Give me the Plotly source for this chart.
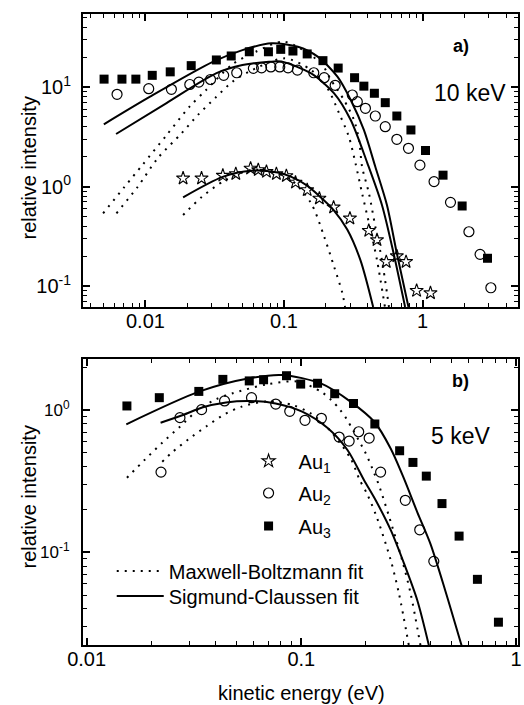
import plotly.graph_objects as go

# ---------------- data : panel a) 10 keV ----------------
au1_a_x = [0.0187, 0.0254, 0.0362, 0.0449, 0.0574, 0.0652, 0.0747, 0.0881, 0.104, 0.121, 0.147, 0.180, 0.228, 0.299, 0.409, 0.469, 0.547, 0.652, 0.760, 0.906, 1.14]
au1_a_y = [1.21, 1.21, 1.29, 1.34, 1.52, 1.47, 1.41, 1.34, 1.28, 1.10, 0.923, 0.760, 0.618, 0.479, 0.360, 0.290, 0.175, 0.200, 0.175, 0.0897, 0.085]

au2_a_x = [0.00624, 0.01056, 0.0154, 0.0209, 0.0243, 0.0295, 0.0367, 0.0456, 0.0601, 0.0689, 0.0804, 0.0932, 0.107, 0.125, 0.164, 0.195, 0.234, 0.311, 0.338, 0.387, 0.456, 0.538, 0.652, 0.791, 0.957, 1.21, 1.59, 2.16, 2.60, 3.11]
au2_a_y = [8.45, 9.61, 9.48, 10.6, 11.2, 11.9, 13.1, 13.9, 15.4, 15.6, 15.9, 15.9, 15.6, 14.8, 13.9, 12.4, 10.4, 8.31, 7.12, 6.11, 5.11, 3.99, 2.98, 2.42, 1.64, 1.12, 0.693, 0.351, 0.208, 0.096]

au3_a_x = [0.00503, 0.00677, 0.00853, 0.0112, 0.0151, 0.0214, 0.0325, 0.0416, 0.0562, 0.0772, 0.0947, 0.116, 0.147, 0.191, 0.246, 0.323, 0.377, 0.449, 0.538, 0.652, 0.824, 1.05, 1.405, 1.93, 2.94]
au3_a_y = [12.0, 12.0, 12.0, 13.1, 14.2, 16.4, 18.7, 20.5, 22.6, 22.6, 23.9, 23.0, 21.5, 18.4, 15.5, 12.4, 10.2, 8.65, 6.96, 5.11, 3.70, 2.30, 1.30, 0.637, 0.190]

# Sigmund-Claussen fits (solid)
sc1_a_x = [0.0187, 0.0361, 0.0583, 0.090, 0.113, 0.147, 0.180, 0.228, 0.286, 0.356, 0.440]
sc1_a_y = [0.778, 1.25, 1.44, 1.38, 1.25, 1.02, 0.80, 0.58, 0.37, 0.182, 0.0616]
sc2_a_x = [0.00614, 0.0142, 0.0323, 0.0501, 0.0778, 0.0957, 0.157, 0.230, 0.303, 0.400, 0.509, 0.618, 0.748]
sc2_a_y = [3.37, 6.9, 13.7, 16.6, 17.9, 18.0, 13.7, 8.64, 4.66, 1.71, 0.652, 0.213, 0.0616]
sc3_a_x = [0.00501, 0.0108, 0.0306, 0.0501, 0.0812, 0.126, 0.175, 0.243, 0.303, 0.377, 0.456, 0.553, 0.652, 0.791]
sc3_a_y = [4.22, 8.0, 17.9, 23.5, 27.5, 25.4, 20.2, 12.7, 7.40, 3.70, 1.58, 0.652, 0.213, 0.0616]

# Maxwell-Boltzmann fits (dotted)
mb1_a_x = [0.0187, 0.0256, 0.0377, 0.0583, 0.0812, 0.113, 0.157, 0.195, 0.230, 0.264, 0.276]
mb1_a_y = [0.517, 0.789, 1.16, 1.47, 1.41, 1.16, 0.678, 0.313, 0.156, 0.0845, 0.0616]
mb2_a_x = [0.00618, 0.00881, 0.01225, 0.0182, 0.0239, 0.0320, 0.0425, 0.0560, 0.101, 0.157, 0.206, 0.250, 0.294, 0.328, 0.366, 0.416, 0.469, 0.535]
mb2_a_y = [0.538, 0.995, 1.92, 3.42, 5.23, 7.80, 11.3, 14.3, 19.4, 14.8, 9.70, 5.44, 3.16, 1.71, 0.855, 0.394, 0.182, 0.0616]
mb3_a_x = [0.00495, 0.00708, 0.00956, 0.0142, 0.0208, 0.0274, 0.0425, 0.0624, 0.101, 0.185, 0.218, 0.271, 0.320, 0.348, 0.366, 0.410, 0.456, 0.509, 0.572]
mb3_a_y = [0.538, 0.995, 1.66, 3.28, 6.34, 9.33, 16.9, 22.6, 28.5, 17.3, 11.8, 7.40, 4.66, 2.93, 1.58, 0.855, 0.394, 0.182, 0.0616]

# ---------------- data : panel b) 5 keV ----------------
au2_b_x = [0.0222, 0.0272, 0.0343, 0.0439, 0.0586, 0.0760, 0.0883, 0.104, 0.124, 0.150, 0.167, 0.185, 0.207, 0.234, 0.305, 0.356, 0.414]
au2_b_y = [0.366, 0.883, 1.005, 1.157, 1.22, 1.10, 0.979, 0.846, 0.874, 0.645, 0.605, 0.703, 0.635, 0.366, 0.232, 0.144, 0.0864]

au3_b_x = [0.0154, 0.0218, 0.0333, 0.0431, 0.0572, 0.0667, 0.0853, 0.0993, 0.119, 0.143, 0.175, 0.220, 0.287, 0.331, 0.382, 0.452, 0.543, 0.661, 0.828]
au3_b_y = [1.067, 1.22, 1.35, 1.64, 1.60, 1.63, 1.74, 1.52, 1.54, 1.30, 1.11, 0.797, 0.517, 0.428, 0.343, 0.220, 0.130, 0.0646, 0.0323]

sc2_b_x = [0.0221, 0.0281, 0.0348, 0.0446, 0.0572, 0.0759, 0.1009, 0.133, 0.164, 0.196, 0.222, 0.261, 0.301, 0.347, 0.393]
sc2_b_y = [0.814, 0.922, 1.045, 1.13, 1.157, 1.11, 0.973, 0.743, 0.523, 0.321, 0.232, 0.143, 0.0832, 0.0459, 0.0221]
sc3_b_x = [0.0153, 0.0336, 0.0572, 0.0814, 0.124, 0.170, 0.219, 0.261, 0.301, 0.347, 0.399, 0.468, 0.558]
sc3_b_y = [0.793, 1.35, 1.67, 1.76, 1.53, 1.14, 0.823, 0.534, 0.328, 0.191, 0.115, 0.054, 0.0221]

mb2_b_x = [0.0225, 0.0247, 0.0299, 0.0363, 0.0439, 0.0527, 0.0700, 0.0916, 0.111, 0.136, 0.170, 0.186, 0.204, 0.226, 0.261, 0.285, 0.317]
mb2_b_y = [0.433, 0.496, 0.625, 0.771, 0.933, 1.055, 1.15, 1.08, 0.942, 0.719, 0.454, 0.328, 0.251, 0.172, 0.0878, 0.0512, 0.0221]
mb3_b_x = [0.0154, 0.0186, 0.0225, 0.0272, 0.0330, 0.0401, 0.0479, 0.0700, 0.0966, 0.124, 0.138, 0.151, 0.162, 0.200, 0.219, 0.230, 0.257, 0.295, 0.323, 0.359]
mb3_b_y = [0.334, 0.445, 0.589, 0.763, 1.0, 1.19, 1.31, 1.52, 1.58, 1.34, 1.17, 1.01, 0.869, 0.492, 0.356, 0.295, 0.176, 0.0878, 0.0512, 0.0221]

# ---------------- ticks / labels ----------------
x_tickvals = [0.01, 0.1, 1]
x_ticktext = ["0.01", "0.1", "1"]
y_tickvals = [0.1, 1, 10]
y_ticktext = ["10<sup>-1</sup>", "10<sup>0</sup>", "10<sup>1</sup>"]
minor_vals = [m * 10.0 ** e for e in range(-4, 3) for m in range(2, 10)]

FONT = "Liberation Sans, Arial, Helvetica, sans-serif"
BLACK = "black"
DOT = "2px,6px"

fig = go.Figure()


def line(x, y, xa, ya, dash="solid", name=None, legend=None):
    fig.add_trace(go.Scatter(
        x=x, y=y, xaxis=xa, yaxis=ya, mode="lines",
        line=dict(color=BLACK, width=2, dash=dash, shape="spline", smoothing=0.8),
        name=name, showlegend=name is not None, legend=legend, hoverinfo="skip"))


def pts(x, y, xa, ya, symbol, size, name=None, legend=None, lw=1.2):
    fig.add_trace(go.Scatter(
        x=x, y=y, xaxis=xa, yaxis=ya, mode="markers",
        marker=dict(symbol=symbol, size=size, color=BLACK,
                    line=dict(color=BLACK, width=lw)),
        name=name, showlegend=name is not None, legend=legend))


# panel a
line(sc1_a_x, sc1_a_y, "x", "y")
line(sc2_a_x, sc2_a_y, "x", "y")
line(sc3_a_x, sc3_a_y, "x", "y")
line(mb1_a_x, mb1_a_y, "x", "y", DOT)
line(mb2_a_x, mb2_a_y, "x", "y", DOT)
line(mb3_a_x, mb3_a_y, "x", "y", DOT)
pts(au3_a_x, au3_a_y, "x", "y", "square", 9, lw=0)
pts(au2_a_x, au2_a_y, "x", "y", "circle-open", 10)
pts(au1_a_x, au1_a_y, "x", "y", "star-open", 10, name="Au<sub>1</sub>", legend="legend", lw=1.1)

# panel b
line(sc2_b_x, sc2_b_y, "x2", "y2")
line(sc3_b_x, sc3_b_y, "x2", "y2", name="Sigmund-Claussen fit", legend="legend5")
line(mb2_b_x, mb2_b_y, "x2", "y2", DOT)
line(mb3_b_x, mb3_b_y, "x2", "y2", DOT, name="Maxwell-Boltzmann fit", legend="legend4")
pts(au3_b_x, au3_b_y, "x2", "y2", "square", 9, name="Au<sub>3</sub>", legend="legend3", lw=0)
pts(au2_b_x, au2_b_y, "x2", "y2", "circle-open", 10, name="Au<sub>2</sub>", legend="legend2")

axis_common = dict(
    type="log", showline=True, linecolor=BLACK, linewidth=2, mirror="allticks",
    ticks="inside", ticklen=7, tickwidth=1.5, tickcolor=BLACK, showgrid=False,
    zeroline=False, tickfont=dict(family=FONT, size=20, color=BLACK),
    minor=dict(tickmode="array", tickvals=minor_vals, ticks="inside", ticklen=4,
               tickwidth=1.2, tickcolor=BLACK, showgrid=False),
)

PL, PR, PT, PB = 83, 2, 14, 60
W, H = 524, 705
ph = H - PT - PB


def py(p):
    return (H - PB - p) / ph


def px(p):
    return (p - PL) / (W - PL - PR)


fig.update_layout(
    width=W, height=H, margin=dict(l=PL, r=PR, t=PT, b=PB),
    paper_bgcolor="white", plot_bgcolor="white",
    font=dict(family=FONT, size=20, color=BLACK),
    xaxis=dict(axis_common, anchor="y", domain=[0, 1], range=[-2.4505, 0.6886],
               tickmode="array", tickvals=x_tickvals, ticktext=x_ticktext, ticklabelstandoff=-5),
    yaxis=dict(axis_common, anchor="x", domain=[py(307), 1], range=[-1.211, 1.7337],
               tickmode="array", tickvals=y_tickvals, ticktext=y_ticktext, ticklabelstandoff=6),
    xaxis2=dict(axis_common, anchor="y2", domain=[0, 1], range=[-2.017, 0.0092],
                tickmode="array", tickvals=x_tickvals, ticktext=x_ticktext, ticklabelstandoff=-5),
    yaxis2=dict(axis_common, anchor="x2", domain=[0, py(359)], range=[-1.651, 0.358],
                tickmode="array", tickvals=y_tickvals, ticktext=y_ticktext, ticklabelstandoff=8),
    showlegend=True,
)
fig.update_yaxes(tickfont=dict(size=17), selector=dict(anchor="x2"))

leg = dict(bgcolor="rgba(0,0,0,0)", borderwidth=0, xanchor="left", yanchor="middle",
           font=dict(family=FONT, size=20, color=BLACK))
fig.update_layout(
    legend=dict(leg, x=px(240), y=py(461), itemwidth=50),
    legend2=dict(leg, x=px(240), y=py(493), itemwidth=50),
    legend3=dict(leg, x=px(240), y=py(526), itemwidth=50),
    legend4=dict(leg, x=px(112), y=py(571), itemwidth=47),
    legend5=dict(leg, x=px(112), y=py(596), itemwidth=47),
)

ann = []
ann.append(dict(text="<b>a)</b>", x=px(464), y=py(46), font=dict(size=18)))
ann.append(dict(text="10 keV", x=px(474), y=py(93), font=dict(size=23)))
ann.append(dict(text="<b>b)</b>", x=px(464), y=py(381), font=dict(size=18)))
ann.append(dict(text="5 keV", x=px(464), y=py(436), font=dict(size=23)))
ann.append(dict(text="relative intensity", x=px(28), y=py(168), textangle=-90, font=dict(size=20)))
ann.append(dict(text="relative intensity", x=px(28), y=py(497), textangle=-90, font=dict(size=20)))
ann.append(dict(text="kinetic energy (eV)", x=px(304), y=py(693), font=dict(size=20)))
for a in ann:
    a.update(xref="paper", yref="paper", showarrow=False, xanchor="center", yanchor="middle")
    a["font"].update(family=FONT, color=BLACK)
fig.update_layout(annotations=ann)

fig.write_html("out.html")
